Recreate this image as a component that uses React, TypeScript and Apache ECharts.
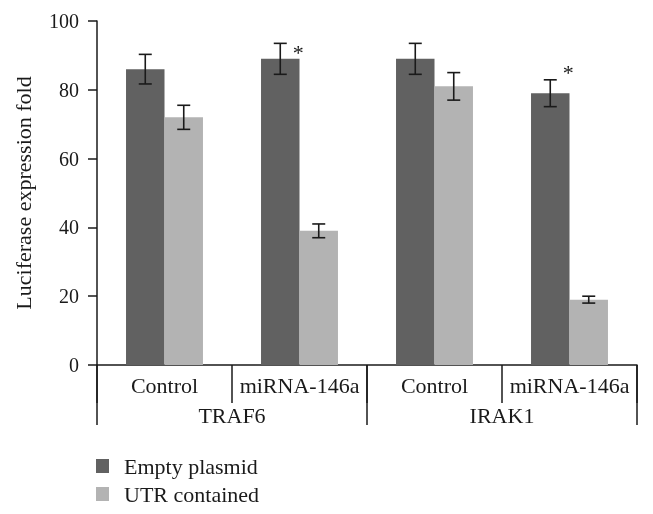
import React, { useEffect, useRef } from "react";
import * as echarts from "echarts";

const categories = ["Control", "miRNA-146a", "Control", "miRNA-146a"];
const groups = ["TRAF6", "IRAK1"];
const seriesNames = ["Empty plasmid", "UTR contained"];
const emptyValues = [86, 89, 89, 79];
const emptyErrors = [4.3, 4.5, 4.5, 3.9];
const utrValues = [72, 39, 81, 19];
const utrErrors = [3.5, 2, 4, 1];
const starValues = [null, 91.6, null, 85.8];
const yTicks = { min: 0, max: 100, interval: 20 };

const FONT = "'Liberation Serif', 'Times New Roman', serif";
const DARK = "#616161";
const LIGHT = "#b3b3b3";
const INK = "#1a1a1a";
const GAP = 0.43;

function errorSeries(values: number[], errors: number[], side: number) {
  return {
    type: "custom",
    xAxisIndex: 0,
    z: 5,
    silent: true,
    data: values.map((v, i) => [i, v - errors[i], v + errors[i]]),
    encode: { x: 0, y: [1, 2] },
    renderItem: (params: any, api: any) => {
      const idx = api.value(0);
      const lo = api.coord([idx, api.value(1)]);
      const hi = api.coord([idx, api.value(2)]);
      const band = api.size([1, 0])[0];
      const bw = (band * (1 - GAP)) / 2;
      const x = lo[0] + (side * bw) / 2;
      const cap = 6.5;
      const st = { stroke: INK, lineWidth: 1.6 };
      return {
        type: "group",
        children: [
          { type: "line", shape: { x1: x, y1: lo[1], x2: x, y2: hi[1] }, style: st },
          { type: "line", shape: { x1: x - cap, y1: lo[1], x2: x + cap, y2: lo[1] }, style: st },
          { type: "line", shape: { x1: x - cap, y1: hi[1], x2: x + cap, y2: hi[1] }, style: st },
        ],
      };
    },
  };
}

export default function App() {
  const ref = useRef<HTMLDivElement>(null);
  useEffect(() => {
    if (!ref.current) return;
    const chart = echarts.init(ref.current, null, { renderer: "svg" });
    chart.setOption({
      animation: false,
      textStyle: { fontFamily: FONT, color: INK },
      grid: { left: 97, right: 16, top: 21, bottom: 149, containLabel: false },
      legend: {
        orient: "vertical",
        left: 96,
        top: 455,
        height: 70,
        padding: 0,
        itemWidth: 13,
        itemHeight: 14,
        itemGap: 6,
        icon: "rect",
        data: seriesNames,
        textStyle: { fontFamily: FONT, fontSize: 22, lineHeight: 22, color: INK, padding: [0, 0, 0, 10] },
      },
      xAxis: [
        {
          type: "category",
          data: categories,
          position: "bottom",
          axisLine: { show: true, lineStyle: { color: INK, width: 1.5 } },
          axisTick: { show: true, interval: 0, length: 38, lineStyle: { color: INK, width: 1.5 } },
          axisLabel: { interval: 0, margin: 9, fontFamily: FONT, fontSize: 22, color: INK },
        },
        {
          type: "category",
          data: groups,
          position: "bottom",
          axisLine: { show: false },
          axisTick: { show: true, interval: 0, length: 60, lineStyle: { color: INK, width: 1.5 } },
          axisLabel: { interval: 0, margin: 39, fontFamily: FONT, fontSize: 22, color: INK },
        },
      ],
      yAxis: {
        type: "value",
        min: yTicks.min,
        max: yTicks.max,
        interval: yTicks.interval,
        name: "Luciferase expression fold",
        nameLocation: "middle",
        nameRotate: 90,
        nameGap: 63,
        nameTextStyle: { fontFamily: FONT, fontSize: 22, color: INK },
        axisLine: { show: true, lineStyle: { color: INK, width: 1.5 } },
        axisTick: { show: true, inside: false, length: 9, lineStyle: { color: INK, width: 1.5 } },
        axisLabel: { margin: 18, fontFamily: FONT, fontSize: 20, color: INK },
        splitLine: { show: false },
      },
      series: [
        {
          name: seriesNames[0],
          type: "bar",
          xAxisIndex: 0,
          data: emptyValues,
          barGap: "0%",
          barCategoryGap: "43%",
          itemStyle: { color: DARK },
        },
        {
          name: seriesNames[1],
          type: "bar",
          xAxisIndex: 0,
          data: utrValues,
          barGap: "0%",
          barCategoryGap: "43%",
          itemStyle: { color: LIGHT },
        },
        errorSeries(emptyValues, emptyErrors, -1),
        errorSeries(utrValues, utrErrors, 1),
        {
          type: "custom",
          xAxisIndex: 0,
          z: 6,
          silent: true,
          data: starValues
            .map((v, i) => (v == null ? null : [i, v]))
            .filter((d) => d != null),
          encode: { x: 0, y: 1 },
          renderItem: (params: any, api: any) => {
            const p = api.coord([api.value(0), api.value(1)]);
            const band = api.size([1, 0])[0];
            const bw = (band * (1 - GAP)) / 2;
            return {
              type: "text",
              x: p[0] - bw / 2 + 18,
              y: p[1] + 3,
              style: {
                text: "*",
                fontFamily: FONT,
                fontSize: 22,
                fill: INK,
                align: "center",
                verticalAlign: "middle",
              },
            };
          },
        },
      ],
    });
    return () => chart.dispose();
  }, []);
  return (
    <div
      ref={ref}
      style={{ position: "fixed", left: 0, top: 0, width: 653, height: 514 }}
    />
  );
}
